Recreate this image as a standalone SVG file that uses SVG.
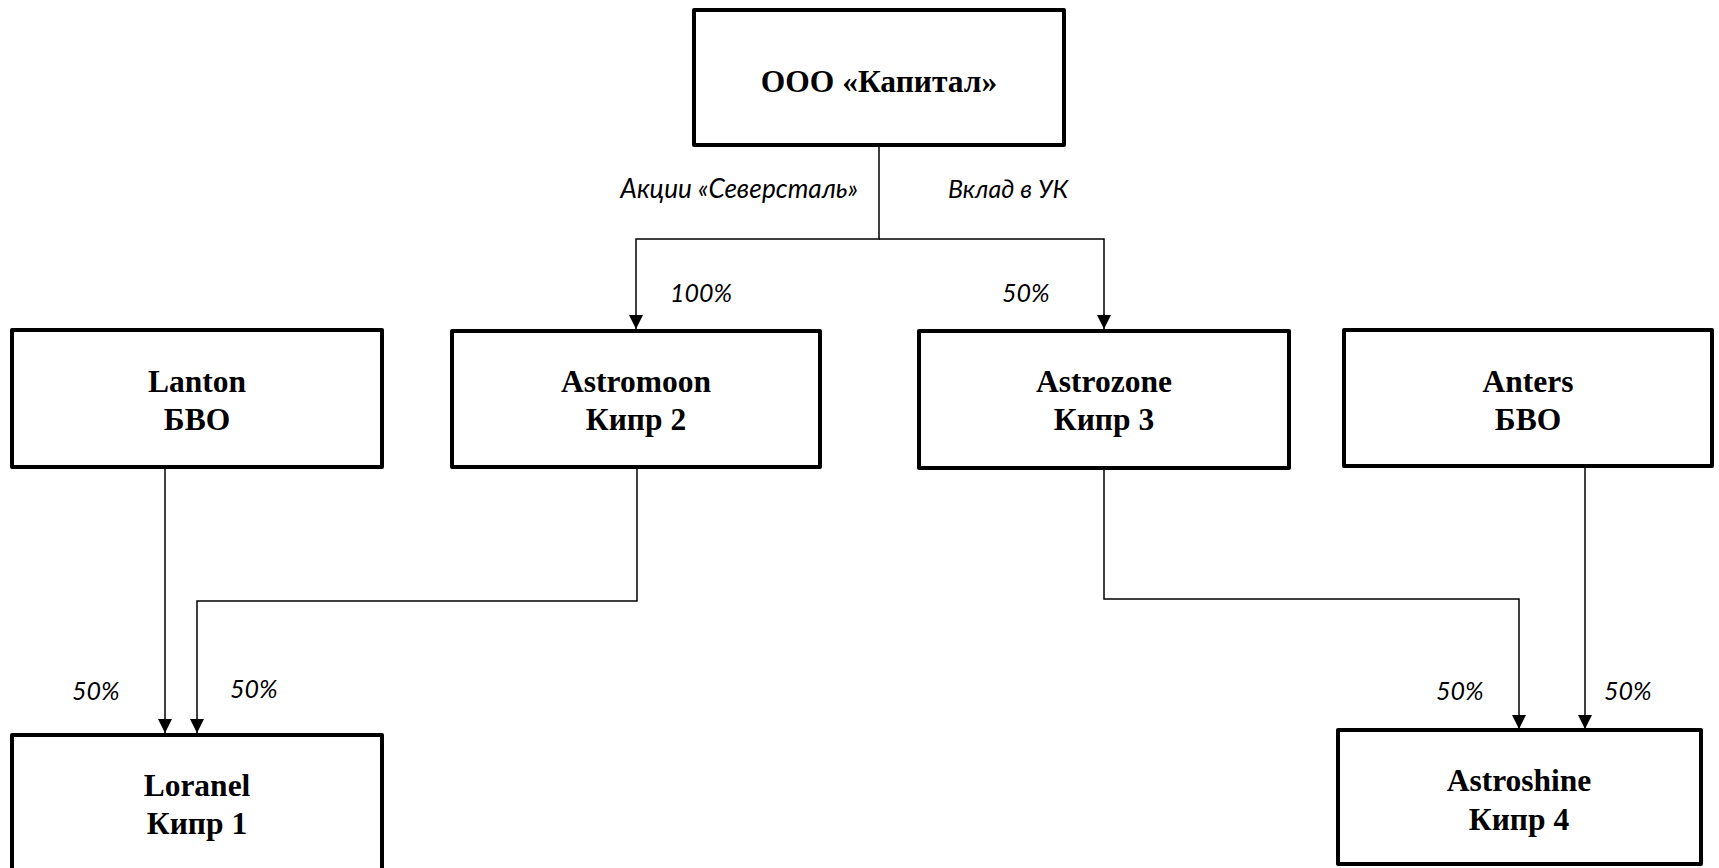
<svg xmlns="http://www.w3.org/2000/svg" width="1719" height="868" viewBox="0 0 1719 868">
<style>
.box{fill:#fff;stroke:#000;stroke-width:4;stroke-linejoin:round}
.nt{font-family:"Liberation Serif",serif;font-weight:bold;font-size:31.5px;text-anchor:middle;fill:#000}
.lbl{font-family:Lato,"Noto Sans",sans-serif;font-style:italic;font-size:25px;fill:#000}
.con{fill:none;stroke:#000;stroke-width:1.5}
</style>
<defs>
<marker id="arr" viewBox="0 0 10 10" refX="10" refY="5" markerWidth="14" markerHeight="14" markerUnits="userSpaceOnUse" orient="auto">
<path d="M0,0 L10,5 L0,10 z" fill="#000"/>
</marker>
</defs>
<g id="connectors">
<path class="con" d="M879,145 V239 H636 V329" marker-end="url(#arr)"/>
<path class="con" d="M879,239 H1104 V329" marker-end="url(#arr)"/>
<path class="con" d="M165,467 V733" marker-end="url(#arr)"/>
<path class="con" d="M637,467 V601 H197 V733" marker-end="url(#arr)"/>
<path class="con" d="M1104,468 V599 H1519 V729" marker-end="url(#arr)"/>
<path class="con" d="M1585,466 V729" marker-end="url(#arr)"/>
</g>
<g id="labels">
<text class="lbl" x="858" y="198" text-anchor="end" style="font-size:26.2px">Акции «Северсталь»</text>
<text class="lbl" x="948" y="198">Вклад в УК</text>
<text class="lbl" x="670" y="302">100%</text>
<text class="lbl" x="1002" y="302">50%</text>
<text class="lbl" x="72" y="700">50%</text>
<text class="lbl" x="230" y="698">50%</text>
<text class="lbl" x="1436" y="700">50%</text>
<text class="lbl" x="1604" y="700">50%</text>
</g>
<g id="kapital">
<rect class="box" x="694" y="10" width="370" height="135"/>
<text class="nt" x="879" y="92">ООО «Капитал»</text>
</g>
<g id="lanton">
<rect class="box" x="12" y="330" width="370" height="137"/>
<text class="nt" x="197" y="392">Lanton</text>
<text class="nt" x="197" y="430">БВО</text>
</g>
<g id="astromoon">
<rect class="box" x="452" y="331" width="368" height="136"/>
<text class="nt" x="636" y="392">Astromoon</text>
<text class="nt" x="636" y="430">Кипр 2</text>
</g>
<g id="astrozone">
<rect class="box" x="919" y="331" width="370" height="137"/>
<text class="nt" x="1104" y="392">Astrozone</text>
<text class="nt" x="1104" y="430">Кипр 3</text>
</g>
<g id="anters">
<rect class="box" x="1344" y="330" width="368" height="136"/>
<text class="nt" x="1528" y="392">Anters</text>
<text class="nt" x="1528" y="430">БВО</text>
</g>
<g id="loranel">
<rect class="box" x="12" y="735" width="370" height="160"/>
<text class="nt" x="197" y="796">Loranel</text>
<text class="nt" x="197" y="834">Кипр 1</text>
</g>
<g id="astroshine">
<rect class="box" x="1338" y="730" width="363" height="134"/>
<text class="nt" x="1519" y="791">Astroshine</text>
<text class="nt" x="1519" y="830">Кипр 4</text>
</g>
</svg>
